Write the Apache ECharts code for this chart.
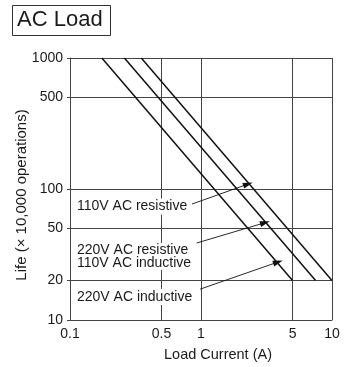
<!DOCTYPE html>
<html>
<head>
<meta charset="utf-8">
<script src="https://cdn.jsdelivr.net/npm/echarts@6/dist/echarts.min.js"></script>
<style>html,body{margin:0;padding:0;background:#fff}#c{width:345px;height:367px}</style>
</head>
<body>
<div id="c"></div>
<script>
const xTicks = [0.1, 0.5, 1, 5, 10];
const yTicks = [10, 20, 50, 100, 500, 1000];
const ac110Resistive = [[0.35, 1000], [10, 20]];
const ac220Resistive110Inductive = [[0.26, 1000], [7.5, 20]];
const ac220Inductive = [[0.175, 1000], [5, 20]];
const arrow110Res = [[0.854, 76.8], [2.285, 109]];
const arrow220Res = [[0.927, 38.7], [3.08, 55.3]];
const arrow220Ind = [[0.985, 17.2], [3.87, 27.7]];
const labelTexts = ['110V AC resistive', '220V AC resistive\n110V AC inductive', '220V AC inductive'];

const FONT = 'Liberation Sans, Arial, Helvetica, sans-serif';
const chart = echarts.init(document.getElementById('c'), null, {renderer: 'canvas'});

function arrowLine(pts) {
  return [{coord: pts[0], symbol: 'none'}, {coord: pts[1], symbol: 'triangle'}];
}

const lineSeries = (name, data, arrows) => ({
  name, type: 'line', data, symbol: 'none', silent: true,
  lineStyle: {color: '#111', width: 1.5},
  animation: false,
  markLine: arrows ? {
    silent: true, animation: false,
    symbolSize: [6, 10],
    label: {show: false},
    lineStyle: {color: '#111', width: 0.9, type: 'solid'},
    emphasis: {disabled: true},
    data: [arrowLine(arrows)]
  } : undefined
});

chart.setOption({
  animation: false,
  grid: {left: 70, right: 13, top: 58, bottom: 47},
  xAxis: {
    type: 'log', logBase: 10, min: 0.1, max: 10,
    axisLine: {show: true, lineStyle: {color: '#444', width: 1}},
    axisTick: {show: false, customValues: xTicks},
    axisLabel: {customValues: xTicks, color: '#1a1a1a', fontSize: 14, fontFamily: FONT, margin: 7,
      formatter: v => String(v)},
    splitLine: {show: true, lineStyle: {color: '#444', width: 1}},
    minorTick: {show: false}
  },
  yAxis: {
    type: 'log', logBase: 10, min: 10, max: 1000,
    axisLine: {show: true, lineStyle: {color: '#444', width: 1}},
    axisTick: {show: true, customValues: yTicks, length: 3, lineStyle: {color: '#444'}},
    axisLabel: {customValues: yTicks, color: '#1a1a1a', fontSize: 14, fontFamily: FONT, margin: 7,
      formatter: v => String(v)},
    splitLine: {show: true, lineStyle: {color: '#444', width: 1}}
  },
  series: [
    lineSeries('110V AC resistive', ac110Resistive, arrow110Res),
    lineSeries('220V AC resistive / 110V AC inductive', ac220Resistive110Inductive, arrow220Res),
    lineSeries('220V AC inductive', ac220Inductive, arrow220Ind)
  ],
  graphic: [
    {type: 'rect', left: 12, top: 5, shape: {width: 98, height: 30}, style: {fill: '#fff', stroke: '#333', lineWidth: 1}},
    {type: 'text', left: 17, top: 9, style: {text: 'AC Load', fontSize: 22, fontFamily: FONT, fill: '#1a1a1a'}},
    {type: 'text', x: 218, y: 355, style: {text: 'Load Current (A)', fontSize: 14.5, fontFamily: FONT, fill: '#1a1a1a', align: 'center', verticalAlign: 'middle'}},
    {type: 'text', x: 22, y: 195, rotation: Math.PI / 2, style: {text: 'Life (× 10,000 operations)', fontSize: 15, fontFamily: FONT, fill: '#1a1a1a', align: 'center', verticalAlign: 'middle'}},
    {type: 'text', x: 76, y: 206.5, z: 100, style: {text: labelTexts[0], fontSize: 14, fontFamily: FONT, fill: '#1a1a1a', verticalAlign: 'middle', backgroundColor: '#fff', padding: [1, 1]}},
    {type: 'text', x: 76, y: 256.5, z: 100, style: {text: labelTexts[1], fontSize: 14, lineHeight: 12.5, fontFamily: FONT, fill: '#1a1a1a', verticalAlign: 'middle', backgroundColor: '#fff', padding: [1, 1]}},
    {type: 'text', x: 76, y: 297, z: 100, style: {text: labelTexts[2], fontSize: 14, fontFamily: FONT, fill: '#1a1a1a', verticalAlign: 'middle', backgroundColor: '#fff', padding: [1, 1]}}
  ]
});
</script>
</body>
</html>
